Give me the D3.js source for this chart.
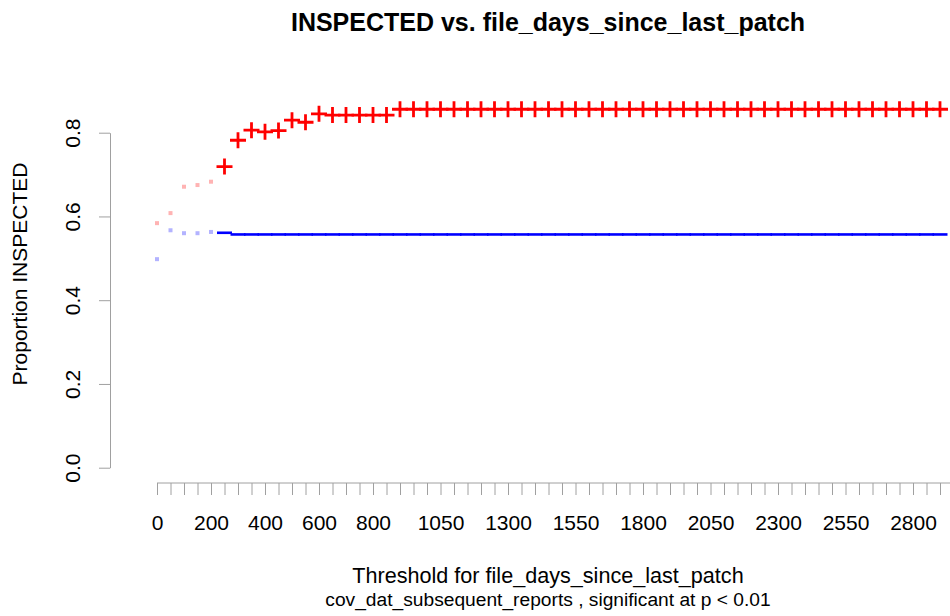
<!DOCTYPE html>
<html>
<head>
<meta charset="utf-8">
<script src="https://cdn.jsdelivr.net/npm/d3@7"></script>
<style>
  body { margin: 0; background: #fff; }
  svg { font-family: "Liberation Sans", Arial, sans-serif; }
</style>
</head>
<body>
<div id="chart"></div>
<script>
// thresholds on the x axis (categorical, equally spaced)
const thresholds = [0, 50, 100, 150, 200, 250, 300, 350, 400, 450, 500, 550, 600, 650, 700, 750,
  800, 850, 900, 950, 1000, 1050, 1100, 1150, 1200, 1250, 1300, 1350, 1400, 1450, 1500,
  1550, 1600, 1650, 1700, 1750, 1800, 1850, 1900, 1950, 2000, 2050, 2100, 2150, 2200,
  2250, 2300, 2350, 2400, 2450, 2500, 2550, 2600, 2650, 2700, 2750, 2800, 2850, 2900];

// labels R managed to print without overlap
const xTickLabels = [0, 200, 400, 600, 800, 1050, 1300, 1550, 1800, 2050, 2300, 2550, 2800];
const yTicks = [0, 0.2, 0.4, 0.6, 0.8];

// proportion INSPECTED above threshold (red)
const aboveValues = [0.584, 0.608, 0.671, 0.675, 0.683, 0.719, 0.782, 0.806, 0.802, 0.805,
  0.830, 0.825, 0.845, 0.842, 0.842, 0.842, 0.842, 0.842, 0.856, 0.856, 0.856, 0.856,
  0.856, 0.856, 0.856, 0.856, 0.856, 0.856, 0.856, 0.856, 0.856, 0.856, 0.856, 0.856,
  0.856, 0.856, 0.856, 0.856, 0.856, 0.856, 0.856, 0.856, 0.856, 0.856, 0.856, 0.856,
  0.856, 0.856, 0.856, 0.856, 0.856, 0.856, 0.856, 0.856, 0.856, 0.856, 0.856, 0.856, 0.856];

// proportion INSPECTED at or below threshold (blue)
const belowValues = [0.498, 0.567, 0.560, 0.560, 0.563, 0.561, 0.557, 0.557, 0.557, 0.557,
  0.557, 0.557, 0.557, 0.557, 0.557, 0.557, 0.557, 0.557, 0.557, 0.557, 0.557, 0.557,
  0.557, 0.557, 0.557, 0.557, 0.557, 0.557, 0.557, 0.557, 0.557, 0.557, 0.557, 0.557,
  0.557, 0.557, 0.557, 0.557, 0.557, 0.557, 0.557, 0.557, 0.557, 0.557, 0.557, 0.557,
  0.557, 0.557, 0.557, 0.557, 0.557, 0.557, 0.557, 0.557, 0.557, 0.557, 0.557, 0.557, 0.557];

// significant at p < 0.01 (1) or not (0)
const significant = [0, 0, 0, 0, 0, 1, 1, 1, 1, 1, 1, 1, 1, 1, 1, 1, 1, 1, 1, 1, 1, 1, 1, 1,
  1, 1, 1, 1, 1, 1, 1, 1, 1, 1, 1, 1, 1, 1, 1, 1, 1, 1, 1, 1, 1, 1, 1, 1, 1, 1, 1, 1, 1, 1,
  1, 1, 1, 1, 1];

const width = 950, height = 616;
const axisColor = "#a0a0a0";
const fontSize = 21;

const svg = d3.select("#chart").append("svg")
  .attr("width", width)
  .attr("height", height);

const x = d3.scalePoint()
  .domain(thresholds)
  .range([157, 940]);

const y = d3.scaleLinear()
  .domain([0, 0.8])
  .range([467.7, 132.7]);

// x axis
const xAxis = svg.append("g")
  .attr("transform", "translate(0,483)")
  .call(d3.axisBottom(x)
    .tickSize(12)
    .tickSizeOuter(0)
    .tickPadding(20)
    .tickFormat(d => xTickLabels.includes(d) ? d : ""));
xAxis.select(".domain").attr("d", "M" + x.range()[0] + ",0H" + width);
xAxis.selectAll("line, .domain").attr("stroke", axisColor);
xAxis.selectAll("text").attr("font-size", fontSize).attr("fill", "#000");

// y axis
const yAxis = svg.append("g")
  .attr("transform", "translate(110,0)")
  .call(d3.axisLeft(y)
    .tickValues(yTicks)
    .tickSize(11)
    .tickSizeOuter(0)
    .tickFormat(d3.format(".1f")));
yAxis.selectAll("line, .domain").attr("stroke", axisColor);
yAxis.selectAll("text")
  .attr("font-size", fontSize)
  .attr("fill", "#000")
  .attr("text-anchor", "middle")
  .attr("dy", null)
  .attr("x", null)
  .attr("transform", "translate(-30,0) rotate(-90)");

const rows = thresholds.map((t, i) => ({
  t: t,
  above: aboveValues[i],
  below: belowValues[i],
  sig: significant[i]
}));

// non-significant points: faded small squares
const faded = rows.filter(d => !d.sig);
svg.append("g").selectAll("rect.fa")
  .data(faded).join("rect")
  .attr("x", d => x(d.t) - 2)
  .attr("y", d => y(d.above) - 2)
  .attr("width", 4).attr("height", 4)
  .attr("fill", "#ffb3b3");
svg.append("g").selectAll("rect.fb")
  .data(faded).join("rect")
  .attr("x", d => x(d.t) - 2)
  .attr("y", d => y(d.below) - 2)
  .attr("width", 4).attr("height", 4)
  .attr("fill", "#b3b3ff");

const sig = rows.filter(d => d.sig);

// blue: dashes that join into a line
svg.append("g").selectAll("line")
  .data(sig).join("line")
  .attr("x1", d => x(d.t) - 7.5)
  .attr("x2", d => x(d.t) + 7.5)
  .attr("y1", d => y(d.below))
  .attr("y2", d => y(d.below))
  .attr("stroke", "#0000ff")
  .attr("stroke-width", 2.6);

// red: plus signs
svg.append("g").selectAll("path")
  .data(sig).join("path")
  .attr("transform", d => `translate(${x(d.t)},${y(d.above)})`)
  .attr("d", "M-8,0H8M0,-8V8")
  .attr("stroke", "#ff0000")
  .attr("stroke-width", 2.8)
  .attr("fill", "none");

// titles
svg.append("text")
  .attr("x", 548).attr("y", 31)
  .attr("text-anchor", "middle")
  .attr("font-size", 25)
  .attr("font-weight", "bold")
  .text("INSPECTED vs. file_days_since_last_patch");

svg.append("text")
  .attr("x", 548).attr("y", 583)
  .attr("text-anchor", "middle")
  .attr("font-size", 21.6)
  .text("Threshold for file_days_since_last_patch");

svg.append("text")
  .attr("x", 548).attr("y", 606)
  .attr("text-anchor", "middle")
  .attr("font-size", 19.2)
  .text("cov_dat_subsequent_reports , significant at p < 0.01");

svg.append("text")
  .attr("transform", "translate(27,274) rotate(-90)")
  .attr("text-anchor", "middle")
  .attr("font-size", fontSize)
  .text("Proportion INSPECTED");
</script>
</body>
</html>
